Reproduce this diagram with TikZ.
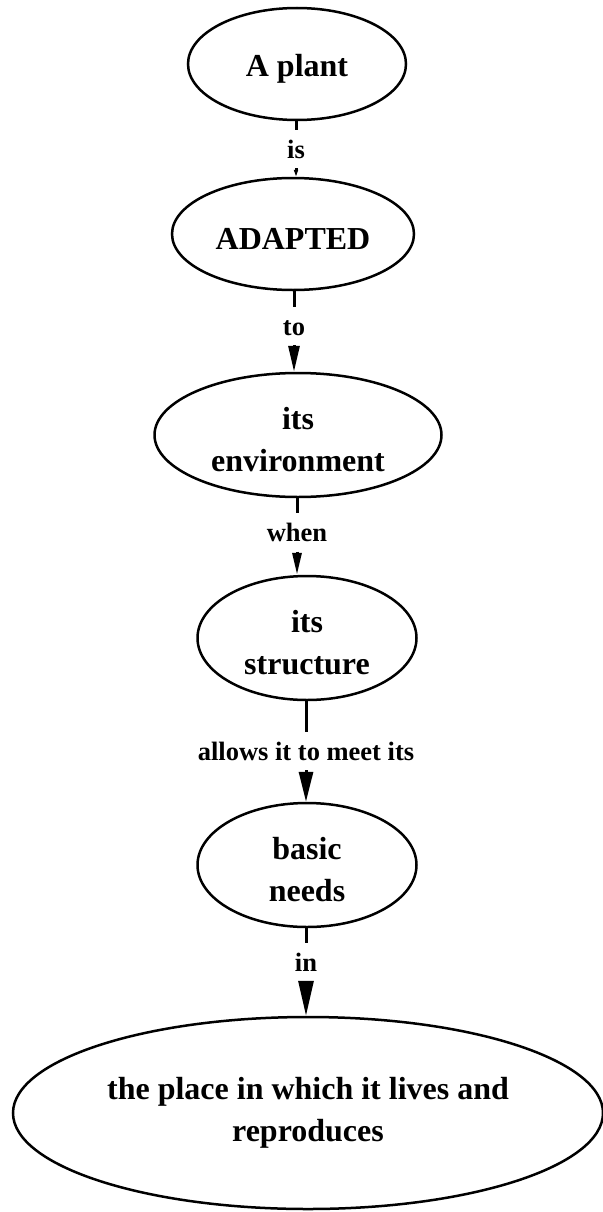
\documentclass[tikz,border=0pt]{standalone}
\usepackage{fontspec}
\setmainfont{Liberation Serif}
\usetikzlibrary{shapes.geometric,arrows.meta}
% tall invisible strut on the first line, sets the text slightly lower in its ellipse
\newcommand{\firstline}{\rule{0pt}{32pt}}
\begin{document}
\begin{tikzpicture}[x=1pt,y=-1pt,
  concept/.style={draw, ellipse, line width=2.5pt, inner sep=0pt, align=center,
    font=\fontsize{32}{42}\selectfont\bfseries},
  linkword/.style={inner xsep=2pt, inner ysep=0pt, text height=18pt, text depth=0pt,
    minimum height=38pt, font=\fontsize{26.5}{30}\selectfont\bfseries},
  stub/.style={line width=3pt},
  link/.style={line width=3pt}
]
\useasboundingbox (0,0) rectangle (602,1212);

% concepts
\node[concept, minimum width=218pt, minimum height=112pt] (plant)   at (297,64)   {\firstline A plant};
\node[concept, minimum width=242pt, minimum height=112pt] (adapted) at (293,234)  {\firstline ADAPTED};
\node[concept, minimum width=287pt, minimum height=124pt] (env)     at (298,435)  {\firstline its\\environment};
\node[concept, minimum width=219pt, minimum height=124pt] (struct)  at (307,638)  {\firstline its\\structure};
\node[concept, minimum width=219pt, minimum height=124pt] (needs)   at (307,865)  {\firstline basic\\needs};
\node[concept, minimum width=590pt, minimum height=192pt] (place)   at (308,1113) {the place in which it lives and\\reproduces};

% linking words
\node[linkword] (l1) at (296,149)   {is};
\node[linkword] (l2) at (294,326)   {to};
\node[linkword] (l3) at (297,532.5) {when};
\node[linkword] (l4) at (306,751)   {allows it to meet its};
\node[linkword] (l5) at (306,962)   {in};

% connectors
\draw[stub] (plant.south -| l1) -- (l1);
\draw[link, -{Triangle[length=7pt,width=4pt]}] (l1) -- (adapted.north -| l1);
\draw[stub] (adapted.south -| l2) -- (l2);
\draw[link, -{Triangle[length=26pt,width=11pt]}] (l2) -- (env.north -| l2);
\draw[stub] (env.south -| l3) -- (l3);
\draw[link, -{Triangle[length=22pt,width=9pt]}] (l3) -- (struct.north -| l3);
\draw[stub] (struct.south -| l4) -- (l4);
\draw[link, -{Triangle[length=30pt,width=14pt]}] (l4) -- (needs.north -| l4);
\draw[stub] (needs.south -| l5) -- (l5);
\draw[link, -{Triangle[length=35pt,width=15pt]}] (l5) -- (place.north -| l5);
\end{tikzpicture}
\end{document}
